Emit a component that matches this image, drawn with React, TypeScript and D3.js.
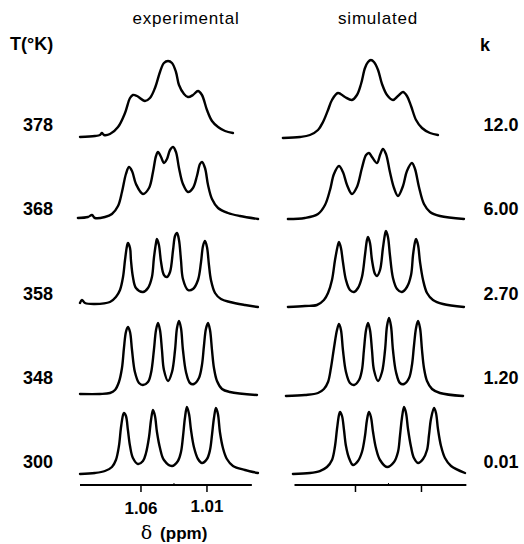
import React from 'react';
import * as d3 from 'd3';

// temperatures (left) and exchange rates (right), top to bottom
const temperatures = ['378', '368', '358', '348', '300'];
const rates = ['12.0', '6.00', '2.70', '1.20', '0.01'];
const tickValues = [1.06, 1.01];
const tickLabels = ['1.06', '1.01'];

// spectra digitised as [ppm, intensity (a.u.)]
const exp378: [number, number][] = [
  [1.1062, 0], [1.0949, 1], [1.0911, 2], [1.0896, 4], [1.088, 2], [1.0835, 3], [1.0774, 10],
  [1.0721, 24], [1.0683, 39], [1.0661, 42], [1.063, 41], [1.057, 36], [1.0532, 39], [1.0494, 49],
  [1.0456, 65], [1.0426, 74], [1.0395, 76], [1.0365, 74], [1.0335, 65], [1.0312, 52], [1.0274, 43],
  [1.0244, 40], [1.0206, 42], [1.0168, 46], [1.0138, 42], [1.01, 27], [1.0062, 16], [1.0016, 10],
  [0.9963, 6], [0.9903, 4],
];
const sim378: [number, number][] = [
  [1.115, -1], [1.1021, 0], [1.0945, 2], [1.0884, 7], [1.0846, 15], [1.0808, 27], [1.0778, 37],
  [1.0733, 44], [1.068, 40], [1.0627, 37], [1.0589, 42], [1.0558, 53], [1.0528, 69], [1.0505, 75],
  [1.0483, 77], [1.046, 75], [1.0429, 67], [1.0399, 53], [1.0361, 42], [1.0316, 37], [1.0278, 41],
  [1.024, 45], [1.021, 41], [1.0179, 31], [1.0141, 17], [1.0096, 9], [1.0035, 4], [0.9975, 2],
];
const exp368: [number, number][] = [
  [1.1078, 0], [1.1002, 1], [1.0971, 3], [1.0949, 0], [1.0873, 1], [1.082, 4], [1.0774, 12],
  [1.0744, 26], [1.0714, 44], [1.0691, 51], [1.0668, 47], [1.0638, 34], [1.0585, 24], [1.0539, 30],
  [1.0509, 46], [1.0486, 62], [1.0471, 66], [1.0448, 61], [1.0426, 55], [1.0403, 59], [1.038, 68],
  [1.0357, 71], [1.0335, 66], [1.0312, 50], [1.0282, 34], [1.0244, 26], [1.0206, 30], [1.0176, 42],
  [1.0153, 54], [1.0138, 56], [1.0115, 50], [1.0092, 33], [1.0062, 19], [1.0016, 10], [0.9941, 5],
  [0.985, 2], [0.9713, -1],
];
const sim368: [number, number][] = [
  [1.1112, -1], [1.0983, 0], [1.0884, 4], [1.0831, 13], [1.0793, 28], [1.0763, 44], [1.0725, 52],
  [1.0695, 46], [1.0664, 33], [1.0627, 24], [1.0589, 31], [1.0551, 50], [1.052, 63], [1.0498, 65],
  [1.0475, 61], [1.0437, 55], [1.0414, 63], [1.0392, 69], [1.0369, 64], [1.0339, 46], [1.0308, 30],
  [1.0278, 22], [1.024, 32], [1.021, 47], [1.0172, 55], [1.0149, 49], [1.0119, 31], [1.0081, 14],
  [1.0035, 6], [0.996, 2], [0.9778, -1],
];
const exp358: [number, number][] = [
  [1.1062, 2], [1.1047, 5], [1.1024, 2], [1.0949, 1], [1.0835, 3], [1.079, 8], [1.0759, 15],
  [1.0736, 28], [1.0721, 45], [1.0706, 59], [1.0699, 62], [1.0683, 57], [1.0676, 45], [1.0661, 28],
  [1.0638, 17], [1.0585, 13], [1.0547, 17], [1.0517, 28], [1.0502, 47], [1.0486, 62], [1.0479, 66],
  [1.0464, 60], [1.0448, 43], [1.0426, 30], [1.0403, 28], [1.038, 33], [1.0357, 55], [1.0342, 69],
  [1.0327, 72], [1.0312, 65], [1.0297, 45], [1.0282, 26], [1.0244, 15], [1.0206, 16], [1.0168, 25],
  [1.0145, 43], [1.013, 59], [1.0115, 64], [1.01, 58], [1.0085, 40], [1.007, 25], [1.0039, 12],
  [0.9994, 6], [0.9926, 3], [0.9812, 0], [0.9714, -2],
];
const sim358: [number, number][] = [
  [1.1112, -2], [1.0983, -1], [1.0892, 0], [1.0839, 5], [1.0808, 12], [1.0778, 25], [1.0755, 45],
  [1.0733, 60], [1.0725, 63], [1.071, 57], [1.0695, 43], [1.0672, 25], [1.0642, 15], [1.0611, 13],
  [1.0581, 17], [1.0551, 28], [1.0528, 50], [1.0513, 65], [1.0505, 68], [1.049, 62], [1.0475, 45],
  [1.0452, 31], [1.0437, 29], [1.0414, 35], [1.0392, 57], [1.0376, 71], [1.0369, 74], [1.0354, 68],
  [1.0339, 50], [1.0316, 27], [1.0285, 16], [1.0248, 13], [1.021, 18], [1.0179, 30], [1.0164, 50],
  [1.0149, 63], [1.0141, 66], [1.0126, 60], [1.0111, 43], [1.0088, 25], [1.0058, 12], [1.0013, 5],
  [0.9937, 1], [0.9778, -2],
];
const exp348: [number, number][] = [
  [1.1062, 1], [1.0911, 1], [1.0835, 2], [1.0797, 5], [1.0767, 13], [1.0744, 27], [1.0729, 47],
  [1.0714, 63], [1.0699, 68], [1.0683, 63], [1.0668, 45], [1.0646, 23], [1.0615, 12], [1.0585, 10],
  [1.0547, 13], [1.0524, 22], [1.0502, 45], [1.0486, 65], [1.0471, 72], [1.0456, 65], [1.0441, 45],
  [1.0426, 25], [1.0395, 14], [1.0365, 23], [1.0342, 45], [1.0327, 67], [1.0312, 74], [1.0297, 67],
  [1.0282, 45], [1.0259, 23], [1.0229, 12], [1.0199, 11], [1.0161, 17], [1.0138, 30], [1.0123, 49],
  [1.0108, 66], [1.0092, 72], [1.0077, 65], [1.0062, 45], [1.0047, 27], [1.0024, 14], [0.9986, 6],
  [0.9926, 3], [0.9721, 0],
];
const sim348: [number, number][] = [
  [1.1127, -1], [1.0983, 0], [1.0884, 2], [1.0839, 6], [1.0808, 13], [1.0786, 27], [1.0763, 47],
  [1.074, 65], [1.0725, 71], [1.071, 65], [1.0695, 45], [1.0672, 23], [1.0642, 12], [1.0611, 10],
  [1.0573, 15], [1.0551, 25], [1.0536, 45], [1.052, 65], [1.0505, 72], [1.049, 65], [1.0475, 45],
  [1.046, 25], [1.0429, 14], [1.0399, 23], [1.0376, 45], [1.0361, 69], [1.0346, 77], [1.0331, 69],
  [1.0316, 45], [1.0293, 23], [1.0263, 12], [1.0232, 11], [1.0194, 17], [1.0172, 30], [1.0157, 49],
  [1.0141, 67], [1.0126, 74], [1.0111, 67], [1.0096, 45], [1.0081, 27], [1.0058, 14], [1.002, 6],
  [0.996, 2], [0.9785, -1],
];
const exp300: [number, number][] = [
  [1.1062, 0], [1.0949, 1], [1.0873, 3], [1.082, 7], [1.079, 14], [1.0767, 28], [1.0752, 46],
  [1.0736, 59], [1.0729, 61], [1.0714, 58], [1.0699, 44], [1.0683, 28], [1.0661, 16], [1.0623, 10],
  [1.0585, 13], [1.0562, 21], [1.0539, 37], [1.0524, 54], [1.0509, 64], [1.0494, 58], [1.0479, 42],
  [1.0456, 26], [1.0426, 14], [1.0365, 8], [1.032, 13], [1.0297, 22], [1.0282, 37], [1.0267, 56],
  [1.0252, 67], [1.0236, 60], [1.0221, 44], [1.0199, 27], [1.0168, 15], [1.0138, 11], [1.01, 15],
  [1.0077, 24], [1.0062, 39], [1.0047, 56], [1.0032, 66], [1.0017, 60], [1.0002, 42], [0.9979, 26],
  [0.9949, 15], [0.9903, 8], [0.9812, 4], [0.9714, 1],
];
const sim300: [number, number][] = [
  [1.1074, 0], [1.0945, 1], [1.087, 3], [1.0816, 7], [1.0778, 14], [1.0755, 28], [1.074, 45],
  [1.0725, 59], [1.0717, 62], [1.0702, 58], [1.0687, 44], [1.0672, 28], [1.0649, 16], [1.0619, 9],
  [1.0581, 13], [1.0551, 22], [1.0528, 38], [1.0513, 54], [1.0498, 62], [1.0483, 57], [1.0467, 42],
  [1.0445, 26], [1.0414, 14], [1.0361, 7], [1.0308, 12], [1.0278, 22], [1.0263, 38], [1.0248, 56],
  [1.0232, 67], [1.0217, 61], [1.0202, 45], [1.0179, 27], [1.0157, 16], [1.0126, 11], [1.0088, 15],
  [1.0058, 24], [1.0043, 39], [1.0028, 55], [1.0005, 66], [0.999, 61], [0.9975, 45], [0.9952, 28],
  [0.9922, 16], [0.9876, 8], [0.977, 1],
];

const experimental = [exp378, exp368, exp358, exp348, exp300];
const simulated = [sim378, sim368, sim358, sim348, sim300];

const W = 524;
const H = 544;
const FONT = '"Liberation Sans", Arial, Helvetica, sans-serif';
const baselines = [137, 218, 305, 395, 474];
const axisY = 485;
const axisDomain = [1.1062, 0.976];

const xLeft = d3.scaleLinear().domain([1.1062, 0.9774]).range([80, 250]);
const xRight = d3.scaleLinear().domain([1.1062, 0.9774]).range([294.5, 464.5]);
// row labels sit on an even grid
const labelY = d3.scalePoint().domain(temperatures).range([131, 468]);

function Panel({ x, spectra }: { x: d3.ScaleLinear<number, number>; spectra: [number, number][][] }) {
  return (
    <g>
      {spectra.map((pts, i) => {
        const y = d3.scaleLinear().domain([0, 100]).range([baselines[i], baselines[i] - 100]);
        const line = d3
          .line<[number, number]>()
          .x((d) => x(d[0]))
          .y((d) => y(d[1]))
          .curve(d3.curveCatmullRom.alpha(0.5));
        return (
          <path key={i} d={line(pts) ?? ''} fill="none" stroke="#000" strokeWidth={2.4}
            strokeLinejoin="round" strokeLinecap="round" />
        );
      })}
      <line x1={x(axisDomain[0])} x2={x(axisDomain[1])} y1={axisY} y2={axisY} stroke="#000" strokeWidth={1.8} />
      {tickValues.map((t) => (
        <line key={t} x1={x(t)} x2={x(t)} y1={axisY} y2={axisY + 7} stroke="#000" strokeWidth={1.5} />
      ))}
      <line x1={x(1.035)} x2={x(1.035)} y1={axisY - 2} y2={axisY} stroke="#000" strokeWidth={1} />
    </g>
  );
}

export default function App() {
  return (
    <svg width={W} height={H} style={{ position: 'absolute', left: 0, top: 0, background: '#fff' }}
      fontFamily={FONT}>
      <text x={186} y={24} textAnchor="middle" fontSize={17} letterSpacing={0.8}>experimental</text>
      <text x={378} y={24} textAnchor="middle" fontSize={17} letterSpacing={0.8}>simulated</text>
      <text x={10} y={50} fontSize={18} fontWeight="bold">T(°K)</text>
      <text x={480} y={51} fontSize={18} fontWeight="bold">k</text>
      {temperatures.map((t) => (
        <text key={t} x={38} y={labelY(t)} textAnchor="middle" fontSize={18} fontWeight="bold">{t}</text>
      ))}
      {rates.map((k, i) => (
        <text key={k} x={501} y={labelY(temperatures[i])} textAnchor="middle" fontSize={18} fontWeight="bold">{k}</text>
      ))}
      <Panel x={xLeft} spectra={experimental} />
      <Panel x={xRight} spectra={simulated} />
      {tickValues.map((t, i) => (
        <text key={t} x={xLeft(t)} y={514 - i * 2} textAnchor="middle" fontSize={17} fontWeight="bold">{tickLabels[i]}</text>
      ))}
      <text x={174} y={539} textAnchor="middle" fontSize={17} fontWeight="bold">
        <tspan fontFamily="'DejaVu Serif', serif" fontWeight="normal" fontSize={19}>δ</tspan>
        <tspan dx={8}>(ppm)</tspan>
      </text>
    </svg>
  );
}
